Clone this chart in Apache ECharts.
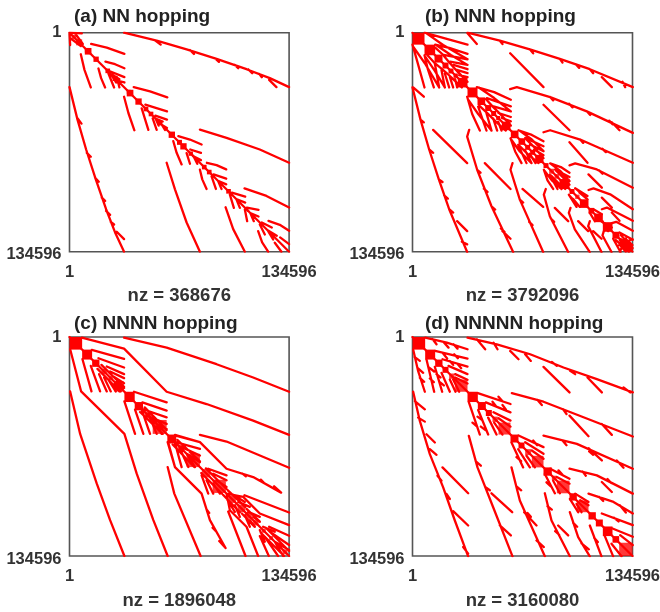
<!DOCTYPE html>
<html><head><meta charset="utf-8">
<script src="https://cdn.jsdelivr.net/npm/echarts@6/dist/echarts.min.js"></script>
<style>html,body{margin:0;padding:0;background:#fff}#c{width:660px;height:612px}</style>
</head><body><div id="c"></div>
<script>
// Matrix size and the read-off unit: values below are matrix positions in 1/660ths of the matrix size.
const matrixSize = 134596;
const readUnits = 660;
const tickValues = [1, 134596];
const tickLabels = ['1', '134596'];
const panelTitles = ['(a) NN hopping', '(b) NNN hopping', '(c) NNNN hopping', '(d) NNNNN hopping'];
const nzLabels = ['nz = 368676', 'nz = 3792096', 'nz = 1896048', 'nz = 3160080'];

// Upper-triangle sparsity traces [col,row, col,row, ...]; the matrices are symmetric.
const curvesA = [
 [0,0, 660,660],[0,0, 37,2],[18,4, 40,34],
 [164,0, 262,24, 352,50, 442,79, 532,110, 602,137, 660,164],
 [258,24, 274,36],[362,52, 374,64],[437,77, 449,88],[497,97, 507,107],[537,110, 549,122],[570,124, 578,134],[600,142, 622,164],
 [65,34, 112,45, 165,64],[108,87, 137,95, 165,107],[123,117, 165,134],[133,142, 165,150],[128,126, 150,140],
 [193,164, 242,177, 294,195],[228,217, 293,237],[258,250, 293,262],[268,272, 293,287],[262,260, 280,268],
 [392,292, 472,317, 572,352, 660,392],
 [327,312, 362,322, 397,337],[363,352, 395,362],[371,372, 395,384],
 [413,392, 442,399, 471,412],[433,427, 471,440],[448,447, 471,457],
 [526,469, 592,492, 660,527],
 [488,482, 528,494],[503,502, 528,512],[533,527, 568,534],[545,544, 568,554],
 [578,572, 608,587],[598,597, 623,612],[598,567, 632,579, 660,597],[633,617, 660,637]
];
const blocksA = [[46,66],[72,88],[108,122],[172,192],[198,217],[223,237],[238,252],[298,317],[323,338],[333,352],[358,371],[398,412],[413,427],[471,485],[533,540],[552,558]];
const meshA = [[6,20],[20,38],[46,60],[172,184]];

const curvesB = [
 [0,0, 660,660],[36,0, 100,18, 165,36],[68,36, 110,46, 165,64],[93,67, 165,80],[113,87, 165,97],[123,97, 165,110],[133,112, 165,122],[140,128, 165,134],
 [42,2, 92,37, 165,80],[72,38, 115,67, 165,97],[68,45, 90,65, 108,87, 123,104, 136,118, 165,148],
 [165,2, 193,34],[165,0, 262,24, 352,50, 442,79, 532,110, 661,164],
 [262,24, 270,34],[352,50, 362,62],[442,79, 450,90],[490,95, 500,106],[532,110, 542,122],[630,148, 638,164],
 [293,62, 393,164],[568,134, 598,164],
 [293,170, 313,164, 413,194, 523,237, 661,302],[413,194, 422,204],[470,214, 480,225],[523,237, 533,248],[590,265, 600,276],
 [393,217, 471,294],[598,270, 621,294],
 [193,164, 245,179, 295,202],[223,197, 295,222],[243,222, 295,237],[258,242, 295,254],[268,257, 295,267],
 [200,166, 245,197, 295,237],[220,200, 240,222, 268,250, 295,280],
 [393,300, 413,294, 503,322, 661,392],[503,322, 512,332],[570,350, 580,360],
 [471,330, 525,392],
 [318,294, 358,308, 393,327],[338,317, 393,342],[353,337, 393,357],[365,352, 393,369],
 [322,296, 358,322, 393,357],[340,320, 365,345, 393,378],
 [471,400, 488,394, 553,412, 661,467],[528,427, 568,467],[560,415, 570,425],
 [413,394, 445,405, 471,422],[428,412, 471,435],[443,427, 471,447],
 [416,396, 445,418, 471,447],[430,415, 450,435, 471,458],
 [528,474, 543,469, 593,487, 661,532],[568,497, 598,527],
 [488,469, 525,492],[501,482, 525,502],[490,470, 525,502],
 [568,532, 583,527, 661,567],[598,542, 621,567],[543,532, 568,547],
 [598,574, 611,570, 661,597],[568,570, 598,587],[621,602, 661,624],[625,610, 660,650],[640,622, 660,640],[620,640, 660,622],[622,625, 650,660],[635,622, 660,648]
];
const blocksB = [[0,36],[36,68],[66,90],[90,108],[108,123],[123,136],[136,165],[165,195],[195,218],[218,236],[236,251],[251,263],[268,294],[295,318],[318,338],[338,353],[353,368],[368,393],[393,408],[441,471],[471,486],[502,528],[528,545],[545,571],[571,600],[600,621]];
const meshB = [[410,425],[426,440],[488,501],[622,640],[640,660]];

const curvesC = [
 [0,0, 660,660],[164,2, 292,32, 442,82, 552,122, 660,165],
 [37,2, 164,35, 292,165, 412,202, 552,252, 660,295],
 [392,295, 472,315, 660,394],
 [317,295, 392,317, 472,397, 552,422, 636,469],[615,450, 636,469],[520,412, 530,420],[575,430, 585,440],
 [526,477, 660,529],[472,472, 522,482, 572,532, 660,567],[600,572, 660,599],
 [67,39, 164,66],[87,64, 164,92],[112,89, 164,112],[122,104, 164,124],[132,119, 164,139],[142,134, 164,154],[96,84, 130,118, 164,150],
 [194,165, 292,197],[219,197, 292,222],[219,217, 292,242],[232,237, 292,262],[252,257, 292,277],[226,212, 292,280],
 [319,297, 392,317],[319,317, 392,337],[337,332, 392,357],[352,352, 392,377],[324,310, 392,375],
 [417,397, 472,417],[432,412, 472,432],[442,432, 472,452],[410,396, 472,458],
 [492,475, 527,497],[507,497, 542,512],[476,462, 528,512],
 [537,527, 572,542],[552,542, 572,557],[532,518, 572,556],
 [582,572, 617,587],[602,587, 660,627],[617,617, 660,642],[590,575, 660,645]
];
const blocksC = [[0,38],[38,68],[68,90],[165,196],[196,221],[294,321]];
const meshC = [[96,112],[118,130],[134,164],[226,246],[250,292],[325,345],[352,392],[398,423],[430,470],[478,500],[505,528],[528,548],[552,568],[578,590],[600,612],[620,632],[640,655]];

const curvesD = [
 [0,0, 660,660],[38,2, 103,17, 165,37],[93,15, 108,32],[123,22, 135,35],[60,6, 72,22],
 [68,42, 165,65],[90,67, 165,89],[108,87, 165,112],[128,112, 165,129],[92,50, 104,65],[125,52, 136,64],[112,72, 122,84],[136,82, 146,94],[128,122, 165,140],
 [165,2, 253,22, 353,52, 453,92, 553,127, 661,167],
 [193,7, 218,37],[243,17, 255,37],[293,42, 318,67],[338,52, 355,72],[393,90, 471,167],[418,75, 433,87],[473,102, 488,112],[525,122, 568,167],[633,152, 653,167],
 [298,169, 393,195, 513,242, 661,300],[471,237, 528,299],[568,262, 598,295],[375,190, 388,205],[452,218, 462,232],
 [196,169, 294,202],[220,197, 294,227],[243,227, 294,252],[258,180, 270,194],[240,195, 250,208],[270,205, 280,218],[258,245, 294,270],
 [393,297, 493,322, 661,397],[528,335, 568,372],[613,372, 633,394],[450,312, 462,326],[530,345, 542,355],
 [318,297, 393,332],[338,317, 393,352],[358,342, 393,367],[362,312, 374,326],
 [471,397, 553,417, 661,472],[568,437, 598,467],[510,405, 520,418],[585,428, 596,440],
 [413,397, 471,427],[433,422, 471,442],[438,402, 450,415],
 [528,472, 603,497, 661,532],[488,472, 528,497],[503,492, 528,507],[560,482, 572,494],[622,507, 640,529],
 [568,532, 661,567],[600,577, 661,602],[623,597, 661,627],[605,545, 618,556]
];
const blocksD = [[0,38],[38,68],[68,90],[90,108],[165,196],[196,220],[220,238],[294,318],[318,336],[393,418],[471,493],[528,550],[550,571],[571,600],[600,620]];
const meshD = [[110,126],[128,165],[240,256],[258,294],[338,356],[358,393],[418,432],[433,471],[493,528],[620,660]];

const allCurves = [curvesA, curvesB, curvesC, curvesD];
const allBlocks = [blocksA, blocksB, blocksC, blocksD];
const allMesh = [meshA, meshB, meshC, meshD];

const toIndex = u => 1 + u / readUnits * (matrixSize - 1);
function traces(curves) {
  const out = [];
  curves.forEach(c => {
    const a = [], b = [];
    for (let i = 0; i < c.length; i += 2) {
      a.push([toIndex(c[i]), toIndex(c[i + 1])]);
      b.push([toIndex(c[i + 1]), toIndex(c[i])]);
    }
    out.push(...a, ['-', '-'], ...b, ['-', '-']);
  });
  return out;
}
function blockSeries(list, i, fill) {
  return {
    type: 'custom', xAxisIndex: i, yAxisIndex: i, z: 4, silent: true,
    data: list.map(b => [toIndex(b[0]), toIndex(b[1])]),
    encode: {x: [0, 1], y: [0, 1]},
    renderItem: (params, api) => {
      const p0 = api.coord([api.value(0), api.value(0)]);
      const p1 = api.coord([api.value(1), api.value(1)]);
      return {type: 'rect', shape: {x: p0[0], y: p0[1], width: p1[0] - p0[0], height: p1[1] - p0[1]}, style: {fill}};
    }
  };
}

const boxes = [
  {left: 69.5, top: 32.7, width: 219.6, height: 219},
  {left: 412.5, top: 32.7, width: 220, height: 219},
  {left: 69.5, top: 337, width: 219.6, height: 219},
  {left: 412.5, top: 337, width: 220, height: 219}
];
const titlePos = [[74, 7], [425, 7], [74, 314], [425, 314]];
const txt = '#333';
const font = 'Liberation Sans';

const option = {
  backgroundColor: '#fff', animation: false,
  title: panelTitles.map((t, i) => ({
    text: t, left: titlePos[i][0], top: titlePos[i][1], padding: 0,
    textStyle: {fontFamily: font, fontWeight: 'bold', fontSize: 19, color: '#222'}
  })),
  grid: boxes.map(b => ({...b, outerBoundsMode: 'none', show: true, borderColor: '#555', borderWidth: 1.6, backgroundColor: '#fff', containLabel: false})),
  xAxis: boxes.map((b, i) => ({
    type: 'value', gridIndex: i, min: 1, max: matrixSize,
    axisLine: {show: false}, axisTick: {show: false}, splitLine: {show: false},
    axisLabel: {customValues: tickValues, formatter: v => tickLabels[tickValues.indexOf(v)], margin: 12,
      alignMinLabel: 'center', alignMaxLabel: 'center',
      fontFamily: font, fontWeight: 'bold', fontSize: 16.5, color: txt, showMinLabel: true, showMaxLabel: true},
    name: nzLabels[i], nameLocation: 'middle', nameGap: 35,
    nameTextStyle: {fontFamily: font, fontWeight: 'bold', fontSize: 18.5, color: txt}
  })),
  yAxis: boxes.map((b, i) => ({
    type: 'value', gridIndex: i, min: 1, max: matrixSize, inverse: true,
    axisLine: {show: false}, axisTick: {show: false}, splitLine: {show: false},
    axisLabel: {customValues: tickValues,
      formatter: v => v === 1 ? '1' : '{low|' + tickLabels[1] + '}', margin: 8,
      rich: {low: {fontFamily: font, fontWeight: 'bold', fontSize: 16.5, color: txt, padding: [6, 0, 0, 0]}},
      verticalAlignMinLabel: 'middle', verticalAlignMaxLabel: 'middle',
      fontFamily: font, fontWeight: 'bold', fontSize: 16.5, color: txt, showMinLabel: true, showMaxLabel: true}
  })),
  series: [
    ...allCurves.map((c, i) => ({
      type: 'line', xAxisIndex: i, yAxisIndex: i, data: traces(c), showSymbol: false, symbol: 'none',
      connectNulls: false, lineStyle: {color: '#f00', width: 2.3, cap: 'round', join: 'round'}, z: 3, silent: true
    })),
    ...allBlocks.map((bl, i) => blockSeries(bl, i, '#f00')),
    ...allMesh.map((bl, i) => blockSeries(bl, i, 'rgba(255,0,0,0.78)'))
  ]
};
echarts.init(document.getElementById('c'), null, {renderer: 'canvas'}).setOption(option);
</script></body></html>
